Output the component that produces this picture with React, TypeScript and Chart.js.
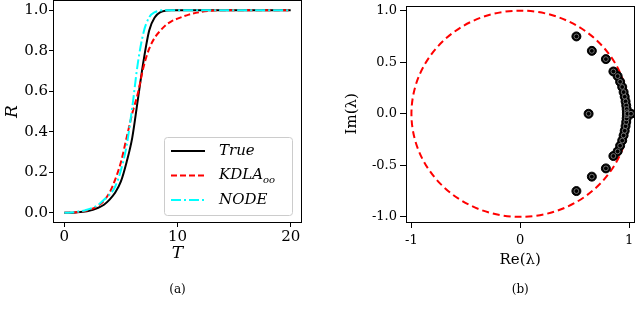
import React, { useEffect, useRef } from "react";
import { Chart, registerables } from "chart.js";
Chart.register(...registerables);

// ---------- Panel (a) data ----------
const T_VALUES = [0, 1, 2, 3, 3.5, 4, 4.5, 5, 5.5, 6, 6.5, 7, 7.5, 8, 8.5, 9, 9.5, 10, 11, 12, 13, 14, 16, 18, 20];
const R_TRUE = [0, 0.002, 0.008, 0.025, 0.04, 0.065, 0.1, 0.155, 0.25, 0.37, 0.56, 0.75, 0.9, 0.965, 0.99, 0.998, 1.0, 1.0, 1.0, 1.0, 1.0, 1.0, 1.0, 1.0, 1.0];
const R_KDLA = [0, 0.003, 0.012, 0.035, 0.06, 0.1, 0.165, 0.25, 0.37, 0.49, 0.59, 0.72, 0.81, 0.865, 0.9, 0.928, 0.946, 0.958, 0.978, 0.99, 0.997, 1.0, 1.0, 1.0, 1.0];
const R_NODE = [0, 0.004, 0.015, 0.04, 0.065, 0.09, 0.13, 0.21, 0.33, 0.52, 0.74, 0.89, 0.965, 0.99, 0.998, 1.0, 1.0, 1.0, 1.0, 1.0, 1.0, 1.0, 1.0, 1.0, 1.0];
const SERIES_NAMES = ["True", "KDLA_oo", "NODE"];
const LEFT_X_TICKS = [0, 10, 20];
const LEFT_Y_TICKS = [0, 0.2, 0.4, 0.6, 0.8, 1.0];

// ---------- Panel (b) data ----------
const EIG_RE_UPPER = [0.516, 0.658, 0.787, 0.856, 0.895, 0.918, 0.937, 0.95, 0.96, 0.968, 0.974, 0.978, 0.98];
const EIG_IM_UPPER = [0.75, 0.61, 0.53, 0.41, 0.365, 0.31, 0.26, 0.21, 0.165, 0.12, 0.08, 0.045, 0.015];
const EIG_RE_LOWER = [0.516, 0.658, 0.787, 0.856, 0.895, 0.918, 0.937, 0.95, 0.96, 0.968, 0.974, 0.978, 0.98];
const EIG_IM_LOWER = [-0.75, -0.61, -0.53, -0.41, -0.365, -0.31, -0.26, -0.21, -0.165, -0.12, -0.08, -0.045, -0.015];
const EIG_RE_REAL = [0.628, 0.985, 1.018];
const EIG_IM_REAL = [0, 0, 0];
const UNIT_CIRCLE_RADIUS = 1;
const RIGHT_X_TICKS = [-1, 0, 1];
const RIGHT_Y_TICKS = [-1, -0.5, 0, 0.5, 1];

const SERIF = '"DejaVu Serif", serif';

function makeAxis(o: any) {
  return {
    type: "linear",
    min: o.min,
    max: o.max,
    afterBuildTicks: (s: any) => {
      s.ticks = o.ticks.map((v: number) => ({ value: v }));
    },
    afterFit: (s: any) => {
      if (o.horizontal) s.height = o.size;
      else s.width = o.size;
      s.paddingTop = 0;
      s.paddingBottom = 0;
      s.paddingLeft = 0;
      s.paddingRight = 0;
    },
    ticks: {
      color: "#000",
      font: { family: SERIF, size: o.fontSize },
      padding: o.tickPadding,
      autoSkip: false,
      maxRotation: 0,
      callback: (v: number) => o.fmt(v),
    },
    grid: {
      display: true,
      drawOnChartArea: false,
      drawTicks: true,
      tickLength: o.tickLength,
      tickColor: "#000",
      tickWidth: 1,
      color: "#000",
    },
    border: { display: false },
    title: {
      display: true,
      text: o.title,
      color: "#000",
      font: { family: SERIF, size: o.titleSize, style: o.titleStyle || "normal" },
      padding: o.titlePadding,
    },
  };
}

const framePlugin = {
  id: "frame",
  afterDatasetsDraw(chart: any) {
    const { ctx, chartArea } = chart;
    const { left, top, right, bottom } = chartArea;
    ctx.save();
    ctx.strokeStyle = "#000";
    ctx.lineWidth = 1;
    ctx.setLineDash([]);
    ctx.strokeRect(Math.round(left) + 0.5, Math.round(top) + 0.5, Math.round(right - left) - 1, Math.round(bottom - top) - 1);
    ctx.restore();
  },
};

function captionPlugin(text: string) {
  return {
    id: "caption",
    afterDraw(chart: any) {
      const { ctx, chartArea } = chart;
      ctx.save();
      ctx.fillStyle = "#000";
      ctx.font = `12px ${SERIF}`;
      ctx.textAlign = "center";
      ctx.textBaseline = "middle";
      ctx.fillText(text, (chartArea.left + chartArea.right) / 2, 290);
      ctx.restore();
    },
  };
}

const legendPlugin = {
  id: "customLegend",
  afterDraw(chart: any) {
    const { ctx, chartArea } = chart;
    const w = 128;
    const h = 78;
    const x = chartArea.right - 10 - w;
    const y = chartArea.bottom - 8 - h;
    ctx.save();
    ctx.beginPath();
    ctx.roundRect(x + 0.5, y + 0.5, w, h, 3);
    ctx.fillStyle = "rgba(255,255,255,0.85)";
    ctx.fill();
    ctx.strokeStyle = "#cccccc";
    ctx.lineWidth = 1;
    ctx.stroke();
    const names = SERIES_NAMES;
    chart.data.datasets.forEach((ds: any, i: number) => {
      const rowY = y + 14 + i * 24.5;
      ctx.beginPath();
      ctx.setLineDash(ds.borderDash || []);
      ctx.strokeStyle = ds.borderColor;
      ctx.lineWidth = ds.borderWidth;
      ctx.moveTo(x + 7, rowY);
      ctx.lineTo(x + 41, rowY);
      ctx.stroke();
      ctx.setLineDash([]);
      const [main, sub] = names[i].split("_");
      ctx.fillStyle = "#000";
      ctx.textBaseline = "middle";
      ctx.textAlign = "left";
      ctx.font = `italic 15px ${SERIF}`;
      ctx.fillText(main, x + 55, rowY);
      if (sub) {
        const mw = ctx.measureText(main).width;
        ctx.font = `italic 10px ${SERIF}`;
        ctx.fillText(sub, x + 55 + mw, rowY + 5);
      }
    });
    ctx.restore();
  },
};

const circlePlugin = {
  id: "unitCircle",
  beforeDatasetsDraw(chart: any) {
    const { ctx, scales } = chart;
    const cx = scales.x.getPixelForValue(0);
    const cy = scales.y.getPixelForValue(0);
    const rx = scales.x.getPixelForValue(UNIT_CIRCLE_RADIUS) - cx;
    const ry = cy - scales.y.getPixelForValue(UNIT_CIRCLE_RADIUS);
    ctx.save();
    ctx.beginPath();
    ctx.setLineDash([7, 4]);
    ctx.strokeStyle = "#ff0000";
    ctx.lineWidth = 2;
    ctx.ellipse(cx, cy, rx, ry, 0, 0, Math.PI * 2);
    ctx.stroke();
    ctx.restore();
  },
};

function pairs(xs: number[], ys: number[]) {
  return xs.map((x, i) => ({ x, y: ys[i] }));
}

export default function App() {
  const leftRef = useRef<HTMLCanvasElement>(null);
  const rightRef = useRef<HTMLCanvasElement>(null);

  useEffect(() => {
    const lineDs = (label: string, ys: number[], color: string, dash: number[], order: number) => ({
      label,
      data: pairs(T_VALUES, ys),
      showLine: true,
      borderColor: color,
      backgroundColor: color,
      borderWidth: 2,
      borderDash: dash,
      pointRadius: 0,
      fill: false,
      cubicInterpolationMode: "monotone",
      order,
    });

    const left = new Chart(leftRef.current as HTMLCanvasElement, {
      type: "scatter",
      data: {
        datasets: [
          lineDs(SERIES_NAMES[0], R_TRUE, "#000000", [], 3),
          lineDs(SERIES_NAMES[1], R_KDLA, "#ff0000", [6, 3], 2),
          lineDs(SERIES_NAMES[2], R_NODE, "#00ffff", [10, 3, 2, 3], 1),
        ] as any,
      },
      options: {
        responsive: false,
        animation: false,
        devicePixelRatio: 1,
        events: [],
        layout: { padding: { left: 0, right: 18, top: 0, bottom: 0 } },
        plugins: { legend: { display: false }, tooltip: { enabled: false } },
        scales: {
          x: makeAxis({
            horizontal: true, size: 90, min: -1, max: 21, ticks: LEFT_X_TICKS,
            fontSize: 15, tickPadding: 1, tickLength: 4, fmt: (v: number) => String(v),
            title: "T", titleSize: 17, titleStyle: "italic", titlePadding: { top: 0, bottom: 49 },
          }),
          y: makeAxis({
            horizontal: false, size: 53, min: -0.05, max: 1.05, ticks: LEFT_Y_TICKS,
            fontSize: 15, tickPadding: 1, tickLength: 4, fmt: (v: number) => v.toFixed(1),
            title: "R", titleSize: 17, titleStyle: "italic", titlePadding: { top: 2, bottom: 0 },
          }),
        } as any,
      },
      plugins: [framePlugin, legendPlugin, captionPlugin("(a)")],
    } as any);

    const eigPoints = [
      ...pairs(EIG_RE_UPPER, EIG_IM_UPPER),
      ...pairs(EIG_RE_LOWER, EIG_IM_LOWER),
      ...pairs(EIG_RE_REAL, EIG_IM_REAL),
    ];

    const right = new Chart(rightRef.current as HTMLCanvasElement, {
      type: "scatter",
      data: {
        datasets: [
          {
            label: "eig-inner",
            data: eigPoints,
            pointRadius: 2.4,
            pointBackgroundColor: "#000",
            pointBorderColor: "#8a8a8a",
            pointBorderWidth: 0.8,
            order: 1,
          },
          {
            label: "eig",
            data: eigPoints,
            pointRadius: 4.5,
            pointBackgroundColor: "#000",
            pointBorderColor: "#000",
            pointBorderWidth: 1,
            order: 2,
          },
        ] as any,
      },
      options: {
        responsive: false,
        animation: false,
        devicePixelRatio: 1,
        events: [],
        layout: { padding: { left: 0, right: 3, top: 1, bottom: 0 } },
        plugins: { legend: { display: false }, tooltip: { enabled: false } },
        scales: {
          x: makeAxis({
            horizontal: true, size: 91, min: -1.05, max: 1.05, ticks: RIGHT_X_TICKS,
            fontSize: 13, tickPadding: 5, tickLength: 6, fmt: (v: number) => String(v),
            title: "Re(λ)", titleSize: 15, titlePadding: { top: 0, bottom: 44 },
          }),
          y: makeAxis({
            horizontal: false, size: 86, min: -1.05, max: 1.05, ticks: RIGHT_Y_TICKS,
            fontSize: 13, tickPadding: 3, tickLength: 6, fmt: (v: number) => v.toFixed(1),
            title: "Im(λ)", titleSize: 15, titlePadding: { top: 23, bottom: 0 },
          }),
        } as any,
      },
      plugins: [circlePlugin, framePlugin, captionPlugin("(b)")],
    } as any);

    return () => {
      left.destroy();
      right.destroy();
    };
  }, []);

  return (
    <div style={{ position: "absolute", left: 0, top: 0, width: 640, height: 313, background: "#fff" }}>
      <canvas ref={leftRef} width={320} height={313} style={{ position: "absolute", left: 0, top: 0, width: 320, height: 313 }} />
      <canvas ref={rightRef} width={320} height={313} style={{ position: "absolute", left: 320, top: 0, width: 320, height: 313 }} />
    </div>
  );
}
